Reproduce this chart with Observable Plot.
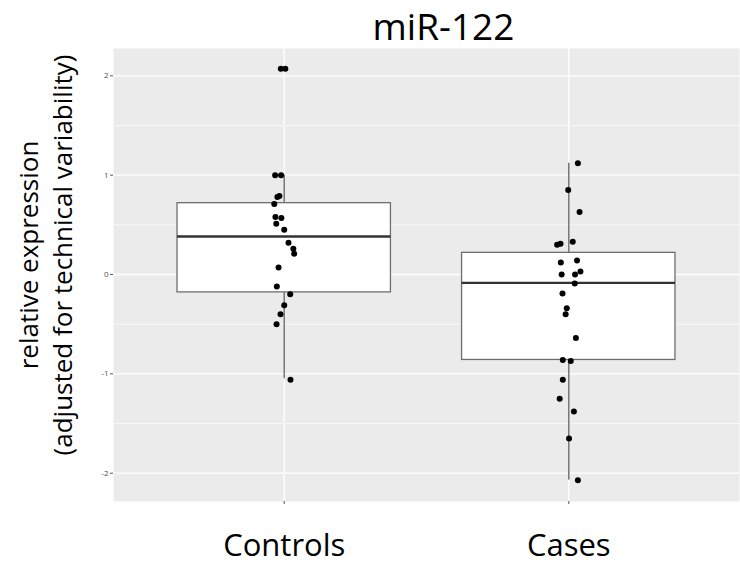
<!DOCTYPE html>
<html>
<head>
<meta charset="utf-8">
<script src="https://cdn.jsdelivr.net/npm/d3@7"></script>
<script src="https://cdn.jsdelivr.net/npm/@observablehq/plot@0.6"></script>
<style>
  html, body { margin: 0; padding: 0; background: #fff; }
  #chart { width: 740px; height: 566px; }
</style>
</head>
<body>
<div id="chart"></div>
<script>
// ---- data ----
const groups = ["Controls", "Cases"];
const title = "miR-122";
const yLabel = "relative expression\n(adjusted for technical variability)";
const yTicks = [-2, -1, 0, 1, 2];

// box statistics
const whiskerLow  = [-1.05, -2.07];
const q1          = [-0.18, -0.86];
const median      = [0.383, -0.084];
const q3          = [0.718, 0.218];
const whiskerHigh = [1.00, 1.12];

// individual observations (value, horizontal jitter)
const controlsValues = [2.07, 2.07, 1.00, 1.00, 0.78, 0.79, 0.71, 0.58, 0.57, 0.51, 0.45, 0.32, 0.26, 0.21, 0.07, -0.12, -0.20, -0.31, -0.40, -0.50, -1.06];
const controlsJitter = [-0.012, 0.004, -0.032, -0.011, -0.024, -0.017, -0.035, -0.031, -0.010, -0.028, 0.000, 0.015, 0.032, 0.035, -0.020, -0.026, 0.021, 0.000, -0.013, -0.027, 0.022];
const casesValues = [1.12, 0.85, 0.63, 0.30, 0.31, 0.33, 0.12, 0.14, 0.00, 0.00, 0.03, -0.09, -0.19, -0.34, -0.40, -0.64, -0.86, -0.87, -1.06, -1.25, -1.38, -1.65, -2.07];
const casesJitter = [0.032, -0.002, 0.038, -0.041, -0.029, 0.014, -0.028, 0.029, -0.025, 0.022, 0.041, 0.021, -0.022, -0.007, -0.011, 0.025, -0.021, 0.007, -0.021, -0.032, 0.018, 0.001, 0.032];

// ---- tables built from the arrays ----
const boxes = groups.map((g, i) => ({
  g, pos: i + 1, lo: whiskerLow[i], q1: q1[i], med: median[i], q3: q3[i], hi: whiskerHigh[i]
}));
const points = [
  ...controlsValues.map((v, i) => ({ pos: 1 + controlsJitter[i], v })),
  ...casesValues.map((v, i) => ({ pos: 2 + casesJitter[i], v }))
];
const halfWidth = 0.375;

const plot = Plot.plot({
  width: 740,
  height: 566,
  marginLeft: 113,
  marginRight: 1,
  marginTop: 48,
  marginBottom: 65,
  style: { fontFamily: "'Open Sans', sans-serif", background: "#fff" },
  x: { type: "linear", domain: [0.4, 2.6], axis: null },
  y: { domain: [-2.285, 2.275], axis: null },
  marks: [
    Plot.frame({ fill: "#EBEBEB", stroke: null }),
    Plot.gridY([-1.5, -0.5, 0.5, 1.5], { stroke: "#fff", strokeOpacity: 1, strokeWidth: 0.6 }),
    Plot.gridY(yTicks, { stroke: "#fff", strokeOpacity: 1, strokeWidth: 1.3 }),
    Plot.gridX([1, 2], { stroke: "#fff", strokeOpacity: 1, strokeWidth: 1.3 }),
    Plot.axisY({ ticks: yTicks, tickFormat: d => String(d), tickSize: 3, tickPadding: 2, fontSize: 8, stroke: "#555", fill: "#4d4d4d", label: null }),
    Plot.axisX({ ticks: [1, 2], tickFormat: d => groups[d - 1], tickSize: 3, tickPadding: 29, fontSize: 31, stroke: "#555", fill: "#000", label: null }),
    Plot.ruleX(boxes, { x: "pos", y1: "lo", y2: "q1", stroke: "#7a7a7a", strokeWidth: 1.6 }),
    Plot.ruleX(boxes, { x: "pos", y1: "q3", y2: "hi", stroke: "#7a7a7a", strokeWidth: 1.6 }),
    Plot.rect(boxes, { x1: d => d.pos - halfWidth, x2: d => d.pos + halfWidth, y1: "q1", y2: "q3", fill: "#fff", stroke: "#6e6e6e", strokeWidth: 1.3 }),
    Plot.ruleY(boxes, { x1: d => d.pos - halfWidth, x2: d => d.pos + halfWidth, y: "med", stroke: "#333", strokeWidth: 2.4 }),
    Plot.dot(points, { x: "pos", y: "v", r: 3, fill: "#000", stroke: null }),
    Plot.text([title], { text: d => d, frameAnchor: "top", dx: 17, dy: -9, fontSize: 37, fill: "#000", lineAnchor: "bottom" }),
    Plot.text([yLabel], { text: d => d, frameAnchor: "left", textAnchor: "middle", dx: -69, dy: -20, rotate: -90, fontSize: 26, lineHeight: 1.3, fill: "#000" })
  ]
});
document.getElementById("chart").appendChild(plot);
</script>
</body>
</html>
